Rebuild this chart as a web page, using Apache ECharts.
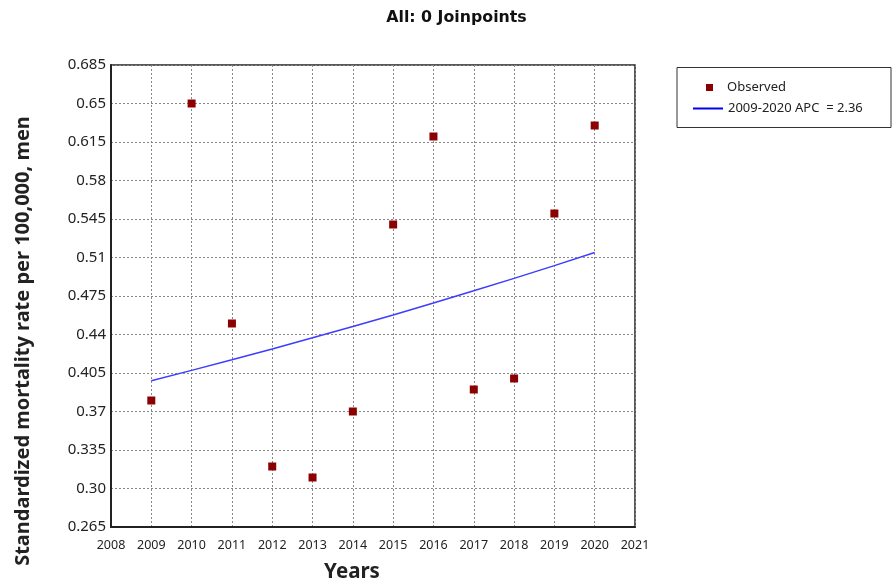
<!DOCTYPE html>
<html>
<head>
<meta charset="utf-8">
<script src="https://cdn.jsdelivr.net/npm/echarts@6/dist/echarts.min.js"></script>
<style>
html,body{margin:0;padding:0;background:#fff;}
#chart{width:893px;height:586px;}
</style>
</head>
<body>
<div id="chart"></div>
<script>
const years = [2009, 2010, 2011, 2012, 2013, 2014, 2015, 2016, 2017, 2018, 2019, 2020];
const observed = [0.38, 0.65, 0.45, 0.32, 0.31, 0.37, 0.54, 0.62, 0.39, 0.40, 0.55, 0.63];
const fitted = [0.398, 0.4074, 0.4170, 0.4269, 0.4370, 0.4473, 0.4578, 0.4686, 0.4797, 0.4910, 0.5026, 0.5145];
const titleText = 'All: 0 Joinpoints';
const xName = 'Years';
const yName = 'Standardized mortality rate per 100,000, men';
const obsName = 'Observed';
const fitName = '2009-2020 APC  = 2.36';

const FONT = '"Noto Sans", "DejaVu Sans", sans-serif';
const chart = echarts.init(document.getElementById('chart'));
chart.setOption({
  animation: false,
  backgroundColor: '#fff',
  graphic: [
    {type: 'rect', shape: {x: 677, y: 67.5, width: 214, height: 60}, style: {fill: 'none', stroke: '#333', lineWidth: 1}, z: -1},
    {type: 'text', x: 456.5, y: 18,
      style: {text: titleText, fontFamily: '"DejaVu Sans", sans-serif', fontSize: 15.8, fontWeight: 'bold', fill: '#111', textAlign: 'center', textVerticalAlign: 'middle'}},
    {type: 'text', x: 23, y: 341, rotation: Math.PI / 2,
      style: {text: yName, fontFamily: FONT, fontSize: 20, fontWeight: 'bold', fill: '#222', textAlign: 'center', textVerticalAlign: 'middle'}},
    {type: 'text', x: 352, y: 572,
      style: {text: xName, fontFamily: FONT, fontSize: 20.5, fontWeight: 'bold', fill: '#222', textAlign: 'center', textVerticalAlign: 'middle'}}
  ],
  grid: {left: 111, top: 65, right: 258, bottom: 59, show: true, borderColor: '#222', borderWidth: 1.5,
    backgroundColor: '#fff', containLabel: false, outerBoundsMode: 'none'},
  legend: [
    {
      data: [{name: obsName, icon: 'rect'}], left: 701, top: 76, itemWidth: 7, itemHeight: 7, itemGap: 0,
      textStyle: {fontFamily: FONT, fontSize: 13, color: '#222', padding: [0,0,0,9]}
    },
    {
      data: [{name: fitName, icon: 'rect'}], left: 688, top: 97, itemWidth: 30, itemHeight: 2, itemGap: 0,
      textStyle: {fontFamily: FONT, fontSize: 13, color: '#222', padding: [0,0,0,0]}
    }
  ],
  xAxis: {
    type: 'value', min: 2008, max: 2021, interval: 1,
    axisLine: {show: true, lineStyle: {color: '#222', width: 2}},
    axisTick: {show: false},
    axisLabel: {fontFamily: FONT, fontSize: 12.5, color: '#222', margin: 12, formatter: v => String(v)},
    splitLine: {show: true, lineStyle: {color: '#888', type: [2, 2], width: 1}}
  },
  yAxis: {
    type: 'value', min: 0.265, max: 0.685, interval: 0.035,
    axisLine: {show: true, lineStyle: {color: '#222', width: 2}},
    axisTick: {show: false},
    axisLabel: {fontFamily: FONT, fontSize: 15, color: '#222', margin: 5,
      formatter: v => { let s = (Math.round(v * 1000) / 1000).toFixed(3); if (s.endsWith('0')) s = s.slice(0, -1); return s; }},
    splitLine: {show: true, lineStyle: {color: '#888', type: [2, 2], width: 1}}
  },
  series: [
    {
      name: obsName, type: 'scatter', symbol: 'rect', symbolSize: 8,
      itemStyle: {color: '#8b0000', opacity: 1},
      data: years.map((y, i) => [y, observed[i]]), z: 5
    },
    {
      name: fitName, type: 'line', symbol: 'none', showSymbol: false,
      lineStyle: {color: '#3d3dff', width: 1.5},
      itemStyle: {color: '#0000ee'},
      data: years.map((y, i) => [y, fitted[i]]), z: 4
    }
  ]
});
</script>
</body>
</html>
